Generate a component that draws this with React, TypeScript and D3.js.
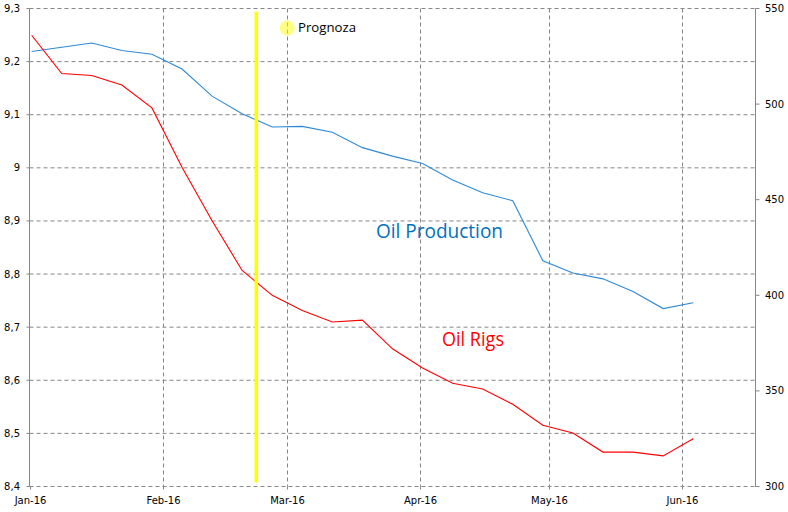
import React from "react";
import * as d3 from "d3";

const dates = [
  "2016-01-01", "2016-01-08", "2016-01-15", "2016-01-22", "2016-01-29",
  "2016-02-05", "2016-02-12", "2016-02-19", "2016-02-26", "2016-03-04",
  "2016-03-11", "2016-03-18", "2016-03-25", "2016-04-01", "2016-04-08",
  "2016-04-15", "2016-04-22", "2016-04-29", "2016-05-06", "2016-05-13",
  "2016-05-20", "2016-05-27", "2016-06-03",
];
const production = [
  9.219, 9.227, 9.235, 9.221, 9.214, 9.186, 9.135, 9.102, 9.077, 9.078,
  9.067, 9.038, 9.022, 9.008, 8.977, 8.953, 8.938, 8.825, 8.802, 8.791,
  8.767, 8.735, 8.746,
];
const rigs = [
  536, 516, 515, 510, 498, 467, 439, 413, 400, 392, 386, 387, 372, 362,
  354, 351, 343, 332, 328, 318, 318, 316, 325,
];
const leftTicks = [8.4, 8.5, 8.6, 8.7, 8.8, 8.9, 9.0, 9.1, 9.2, 9.3];
const rightTicks = [300, 350, 400, 450, 500, 550];
const monthTicks = ["2016-01-01", "2016-02-01", "2016-03-01", "2016-04-01", "2016-05-01", "2016-06-01"];
const xDomain = ["2016-01-01", "2016-06-18"];
const forecastDate = "2016-02-22T19:00:00Z";
const forecastLabel = "Prognoza";

const parse = (s: string) => new Date(s.length === 10 ? s + "T00:00:00Z" : s);
const HALF_DAY = 12 * 3600 * 1000;

export default function App() {
  const W = 788, H = 512;
  const L = 29.5, R = 755.5, T = 8.5, B = 486.5;
  const x = d3.scaleUtc().domain(xDomain.map(parse)).range([L, R]);
  const yL = d3.scaleLinear().domain([8.4, 9.3]).range([B, T]);
  const yR = d3.scaleLinear().domain([300, 550]).range([B, T]);
  const px = (i: number) => x(new Date(parse(dates[i]).getTime() + HALF_DAY));

  const prodLine = d3.line<number>().x((_, i) => px(i)).y((d) => yL(d));
  const rigLine = d3.line<number>().x((_, i) => px(i)).y((d) => yR(d));
  const fmtL = (v: number) => (Math.abs(v - 9) < 1e-9 ? "9" : v.toFixed(1).replace(".", ","));
  const fmtX = d3.utcFormat("%b-%y");
  const grid = "#868686";
  const axisFont = "'DejaVu Sans', Tahoma, sans-serif";
  const labelFont = "'Open Sans', 'Noto Sans', sans-serif";
  const fx = x(parse(forecastDate));

  return (
    <svg width={W} height={H} style={{ position: "absolute", left: 0, top: 0, background: "#fff" }}>
      <rect x={0} y={0} width={W} height={H} fill="#fff" />
      {/* horizontal gridlines */}
      {leftTicks.map((t) => (
        <line key={"h" + t} x1={L} x2={R} y1={yL(t)} y2={yL(t)} stroke={grid} strokeDasharray="4,3" />
      ))}
      {/* vertical gridlines */}
      {monthTicks.slice(1).map((m) => (
        <line key={"v" + m} x1={Math.round(x(parse(m))) + 0.5} x2={Math.round(x(parse(m))) + 0.5} y1={T} y2={B} stroke={grid} strokeDasharray="4,3" />
      ))}
      {/* axes */}
      <line x1={L} x2={L} y1={T} y2={B} stroke={grid} />
      <line x1={R} x2={R} y1={T} y2={B} stroke={grid} />
      {leftTicks.map((t) => (
        <g key={"lt" + t}>
          <line x1={L - 3} x2={L} y1={yL(t)} y2={yL(t)} stroke={grid} />
          <text x={20} y={yL(t)} dy="0.35em" textAnchor="end" fontFamily={axisFont} fontSize={10} fill="#000">
            {fmtL(t)}
          </text>
        </g>
      ))}
      {rightTicks.map((t) => (
        <g key={"rt" + t}>
          <line x1={R} x2={R + 4} y1={yR(t)} y2={yR(t)} stroke={grid} />
          <text x={765} y={yR(t)} dy="0.35em" textAnchor="start" fontFamily={axisFont} fontSize={10} fill="#000">
            {t}
          </text>
        </g>
      ))}
      {monthTicks.map((m) => {
        const xx = Math.round(x(parse(m))) + 0.5;
        return (
          <g key={"mt" + m}>
            <line x1={xx} x2={xx} y1={B} y2={B + 3} stroke={grid} />
            <text x={xx} y={504} textAnchor="middle" fontFamily={axisFont} fontSize={10} fill="#000">
              {fmtX(parse(m))}
            </text>
          </g>
        );
      })}
      {/* series */}
      <path d={prodLine(production) || ""} fill="none" stroke="#2f89d6" strokeWidth={1.1} />
      <path d={rigLine(rigs) || ""} fill="none" stroke="#ff0000" strokeWidth={1.1} />
      {/* forecast marker */}
      <line x1={fx} x2={fx} y1={11.5} y2={482.5} stroke="#ffff00" strokeWidth={3.5} />
      <circle cx={287.3} cy={28} r={7.5} fill="#ffff00" fillOpacity={0.5} />
      <text x={298} y={31.7} fontFamily={labelFont} fontSize={13.5} fill="#000" textLength={58} lengthAdjust="spacingAndGlyphs">
        {forecastLabel}
      </text>
      {/* series labels */}
      <text x={376} y={237.5} fontFamily={labelFont} fontSize={19.5} fill="#0070c0" textLength={127} lengthAdjust="spacingAndGlyphs">
        Oil Production
      </text>
      <text x={442} y={346} fontFamily={labelFont} fontSize={19.5} fill="#ff0000" textLength={62} lengthAdjust="spacingAndGlyphs">
        Oil Rigs
      </text>
    </svg>
  );
}
